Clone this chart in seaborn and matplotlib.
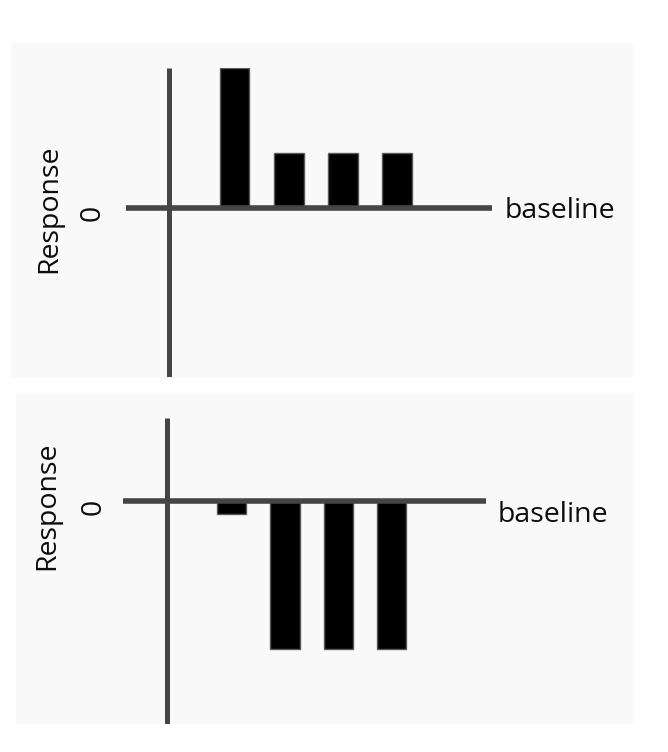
import numpy as np
import pandas as pd
import matplotlib
matplotlib.use("Agg")
import matplotlib.pyplot as plt
import matplotlib.transforms as mtransforms
from matplotlib.patches import Rectangle
import seaborn as sns

# data (response relative to baseline)
conditions = ["c1", "c2", "c3", "c4"]
response_top = [1.0, 0.395, 0.395, 0.395]
response_bottom = [-0.09, -1.0, -1.0, -1.0]

sns.set_theme(style="white")
plt.rcParams["font.family"] = ["Open Sans", "DejaVu Sans"]

W, H = 668, 752
fig = plt.figure(figsize=(W / 100, H / 100), dpi=100)
fig.patch.set_facecolor("white")

axis_col = "#454545"
panel_col = "#f9f9f9"
text_col = "#0d0d0d"
fs = 20.5


def px_box(x0, x1, y0, y1):
    # pixel box (y from top) -> figure fraction [left, bottom, width, height]
    return [x0 / W, (H - y1) / H, (x1 - x0) / W, (y1 - y0) / H]


# light grey panel backgrounds (behind the axes)
for box in [px_box(10.5, 633, 43, 378), px_box(16, 633, 394, 724)]:
    fig.patches.append(Rectangle((box[0], box[1]), box[2], box[3],
                                 transform=fig.transFigure, facecolor=panel_col,
                                 edgecolor="none", zorder=-1))

panels = [
    dict(vals=response_top, box=px_box(126, 492, 68, 377), xlim=(-2.0, 4.75),
         ylim=(-1.2, 1.0), vx=-1.2, resp=(-0.211, 0.0), zero=(-0.091, -0.032),
         base=(1.0355, -0.068)),
    dict(vals=response_bottom, box=px_box(123, 486, 418, 724), xlim=(-2.04, 4.77),
         ylim=(-1.505, 0.556), vx=-1.22, resp=(-0.209, -0.037), zero=(-0.08, -0.044),
         base=(1.033, -0.145)),
]

for p in panels:
    ax = fig.add_axes(p["box"])
    ax.set_facecolor("none")
    df = pd.DataFrame({"condition": conditions, "response": p["vals"]})
    sns.barplot(data=df, x="condition", y="response", color="black",
                saturation=1, edgecolor="#5a5a5a", linewidth=1, width=0.55,
                errorbar=None, ax=ax)
    ax.set_xlim(*p["xlim"])
    ax.set_ylim(*p["ylim"])
    ax.axhline(0, color=axis_col, lw=4, zorder=5, solid_capstyle="butt")
    ax.axvline(p["vx"], color=axis_col, lw=3.6, zorder=5, solid_capstyle="butt")
    for s in ax.spines.values():
        s.set_visible(False)
    ax.set_xticks([])
    ax.set_yticks([])
    ax.set_xlabel("")
    ax.set_ylabel("")

    tr = mtransforms.blended_transform_factory(ax.transAxes, ax.transData)
    ax.text(p["resp"][0], p["resp"][1], "Response", transform=tr, rotation=90,
            ha="center", va="center", fontsize=fs, color=text_col, clip_on=False)
    ax.text(p["zero"][0], p["zero"][1], "0", transform=tr, rotation=90,
            ha="center", va="center", fontsize=fs, color=text_col, clip_on=False)
    ax.text(p["base"][0], p["base"][1], "baseline", transform=tr,
            ha="left", va="baseline", fontsize=fs, color=text_col, clip_on=False)

fig.savefig("out.png", dpi=100, facecolor="white")
